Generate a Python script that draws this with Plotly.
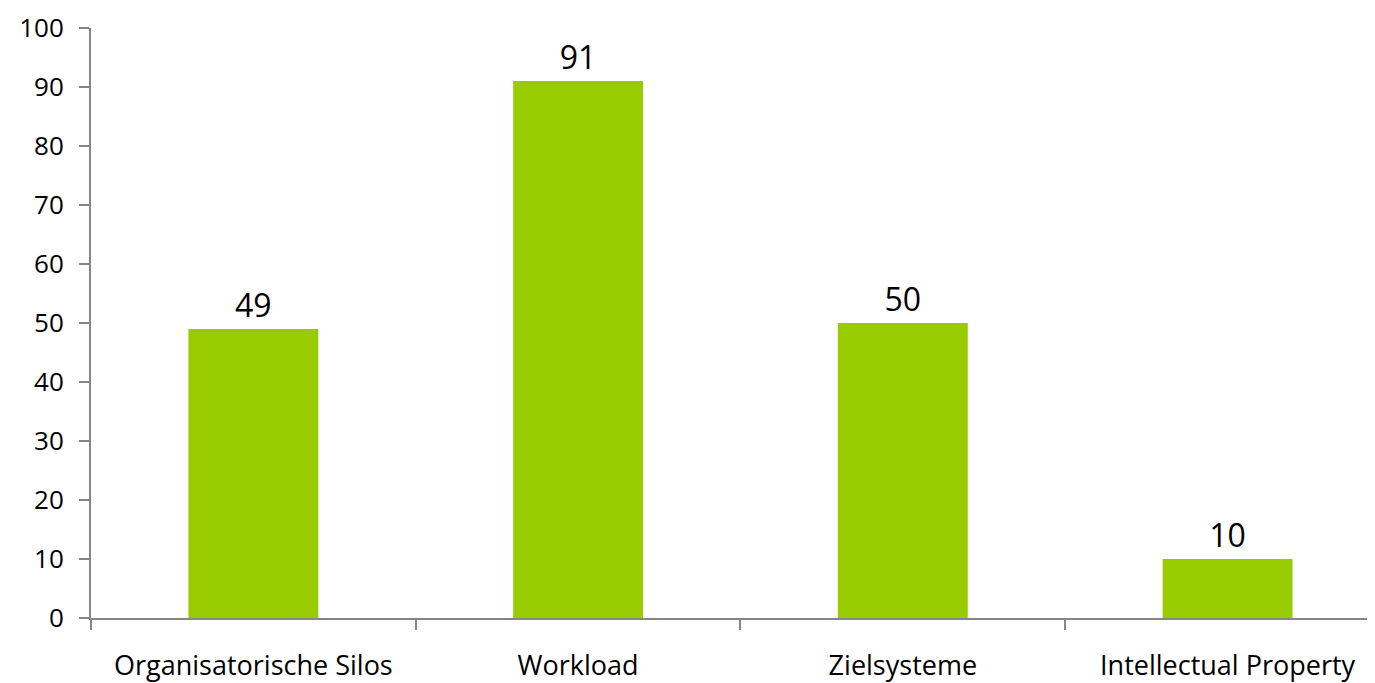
import plotly.graph_objects as go

categories = ["Organisatorische Silos", "Workload", "Zielsysteme", "Intellectual Property"]
values = [49, 91, 50, 10]
y_ticks = [0, 10, 20, 30, 40, 50, 60, 70, 80, 90, 100]

FONT = "Open Sans"
AXIS = "#868686"

fig = go.Figure(go.Bar(
    x=categories, y=values, width=0.4,
    marker=dict(color="#99CC00", line=dict(width=0)),
    text=[str(v) for v in values], textposition="outside",
    textfont=dict(family=FONT, size=32, color="#000000"),
    cliponaxis=False,
))

fig.update_layout(
    width=1367, height=675,
    margin=dict(l=83, r=0, t=20, b=65, autoexpand=False),
    plot_bgcolor="white", paper_bgcolor="white",
    showlegend=False,
    font=dict(family=FONT, size=27, color="#000000"),
)
fig.update_xaxes(
    range=[-0.5, 3.454], showline=True, linecolor=AXIS, linewidth=2,
    ticks="outside", tickson="boundaries", ticklen=10, tickcolor=AXIS, tickwidth=2,
    showgrid=False, tickfont=dict(family=FONT, size=27), ticklabelstandoff=23,
    ticklabeloverflow="allow", automargin=False,
)
fig.update_yaxes(
    range=[0, 100], tickvals=y_ticks, showline=True, linecolor=AXIS, linewidth=2,
    ticks="outside", ticklen=10, tickcolor=AXIS, tickwidth=2,
    showgrid=False, zeroline=False, tickfont=dict(family=FONT, size=26),
    ticklabelstandoff=10, ticklabeloverflow="allow", automargin=False,
)

fig.write_html("out.html")
